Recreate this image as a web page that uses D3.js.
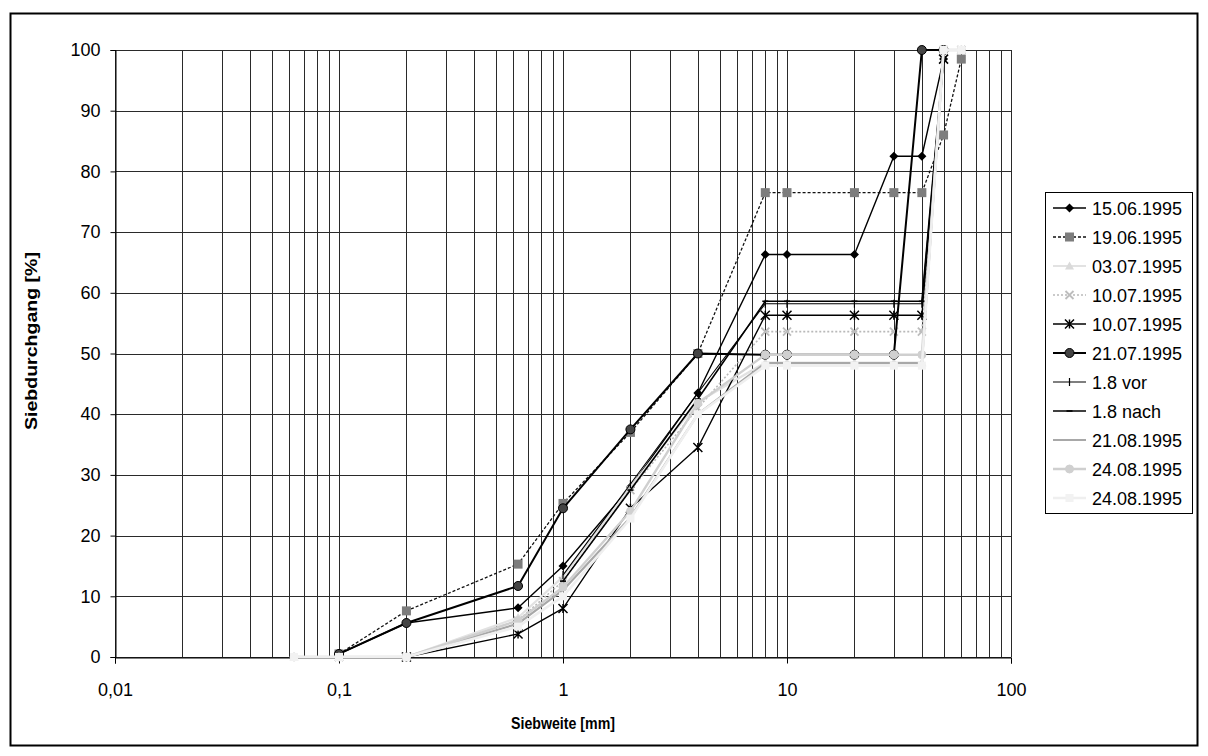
<!DOCTYPE html>
<html>
<head>
<meta charset="utf-8">
<script src="https://cdn.jsdelivr.net/npm/d3@7"></script>
<style>
  html, body { margin: 0; padding: 0; background: #fff; }
  svg { display: block; font-family: "Liberation Sans", Arial, sans-serif; }
</style>
</head>
<body>
<svg id="chart" width="1208" height="756"></svg>
<script>
// Sieve sizes [mm]
const sieveSizes = [0.063, 0.1, 0.2, 0.63, 1, 2, 4, 8, 10, 20, 30, 40, 50, 60];

// Passing fraction [%] per sample, one value per sieve size (null = not measured)
const s150695  = [null, 0.5, 5.6, 8.1, 15.0, 28.0, 43.5, 66.3, 66.3, 66.3, 82.5, 82.5, 98.5, null];
const s190695  = [null, 0.5, 7.6, 15.3, 25.3, 37.0, 50.0, 76.5, 76.5, 76.5, 76.5, 76.5, 86.0, 98.5];
const s030795  = [0, 0, 0, 6.5, 13.2, 28.0, 42.0, 48.5, 48.5, 48.5, 48.5, 48.5, 100, 100];
const s100795a = [null, 0, 0, 6.0, 12.5, 27.5, 41.0, 53.6, 53.6, 53.6, 53.6, 53.6, 100, 100];
const s100795b = [null, null, 0, 3.8, 8.0, 24.5, 34.5, 56.3, 56.3, 56.3, 56.3, 56.3, 98.5, null];
const s210795  = [null, 0.5, 5.6, 11.7, 24.5, 37.5, 50.0, 49.8, 49.8, 49.8, 49.8, 100, 100, null];
const s18vor   = [null, null, null, null, 13.5, 28.5, 43.5, 58.2, 58.2, 58.2, 58.2, 58.2, 98.5, null];
const s18nach  = [null, null, null, null, 12.5, 27.5, 42.5, 58.6, 58.6, 58.6, 58.6, 58.6, 98.5, null];
const s210895  = [null, 0, 0, 5.5, 11.0, 23.0, 40.0, 48.4, 48.4, 48.4, 48.4, 48.4, 100, 100];
const s240895a = [0, 0, 0, 6.0, 11.5, 24.0, 41.8, 49.8, 49.8, 49.8, 49.8, 49.8, 100, 100];
const s240895b = [0, 0, 0, 5.0, 10.0, 22.8, 40.0, 48.0, 48.0, 48.0, 48.0, 48.0, 100, 100];

const seriesNames = ["15.06.1995", "19.06.1995", "03.07.1995", "10.07.1995", "10.07.1995",
                     "21.07.1995", "1.8 vor", "1.8 nach", "21.08.1995", "24.08.1995", "24.08.1995"];
const seriesValues = [s150695, s190695, s030795, s100795a, s100795b,
                      s210795, s18vor, s18nach, s210895, s240895a, s240895b];

const xTickValues = [0.01, 0.1, 1, 10, 100];
const xTickLabels = ["0,01", "0,1", "1", "10", "100"];
const yTickValues = [0, 10, 20, 30, 40, 50, 60, 70, 80, 90, 100];

// Line and marker look of each series
const styles = [
  { stroke: "#000",    width: 1.4, dash: null,  marker: "diamond",  fill: "#000",    size: 4.5 },
  { stroke: "#111",    width: 1.3, dash: "3,2", marker: "square",   fill: "#7d7d7d", size: 4.5 },
  { stroke: "#e2e2e2", width: 2.2, dash: null,  marker: "triangle", fill: "#dadada", size: 4.5 },
  { stroke: "#b9b9b9", width: 1.6, dash: "2,2", marker: "x",        fill: "#bdbdbd", size: 4 },
  { stroke: "#000",    width: 1.3, dash: null,  marker: "star",     fill: "#000",    size: 4.5 },
  { stroke: "#000",    width: 2.0, dash: null,  marker: "circle",   fill: "#444",    size: 4.5 },
  { stroke: "#000",    width: 1.1, dash: null,  marker: "plus",     fill: "#000",    size: 4 },
  { stroke: "#000",    width: 1.6, dash: null,  marker: "dash",     fill: "#000",    size: 3 },
  { stroke: "#a8a8a8", width: 2.2, dash: null,  marker: null,       fill: null,      size: 0 },
  { stroke: "#cfcfcf", width: 2.4, dash: null,  marker: "circle",   fill: "#d0d0d0", size: 4 },
  { stroke: "#efefef", width: 2.6, dash: null,  marker: "square",   fill: "#f2f2f2", size: 4 }
];

const svg = d3.select("#chart");
svg.append("rect").attr("width", 1208).attr("height", 756).attr("fill", "#fff");

// Outer frame
svg.append("rect")
  .attr("x", 10.5).attr("y", 13.5).attr("width", 1187).attr("height", 732)
  .attr("fill", "none").attr("stroke", "#000").attr("stroke-width", 2);

const plot = { left: 115, right: 1011, top: 50, bottom: 657 };
const x = d3.scaleLog().domain([0.01, 100]).range([plot.left, plot.right]);
const y = d3.scaleLinear().domain([0, 100]).range([plot.bottom, plot.top]);

// Grid: horizontal every 10 %, vertical at every log step
const grid = svg.append("g").attr("stroke", "#2a2a2a").attr("stroke-width", 1).attr("shape-rendering", "crispEdges");
yTickValues.forEach(v => {
  grid.append("line").attr("x1", plot.left).attr("x2", plot.right)
    .attr("y1", Math.round(y(v)) + 0.5).attr("y2", Math.round(y(v)) + 0.5);
});
const logSteps = [];
for (let e = -2; e <= 1; e++) for (let m = 1; m <= 9; m++) logSteps.push(m * Math.pow(10, e));
logSteps.push(100);
logSteps.forEach(v => {
  grid.append("line").attr("y1", plot.top).attr("y2", plot.bottom)
    .attr("x1", Math.round(x(v)) + 0.5).attr("x2", Math.round(x(v)) + 0.5);
});

// Axes
const yAxis = svg.append("g").attr("transform", `translate(${plot.left + 0.5},0)`)
  .call(d3.axisLeft(y).tickValues(yTickValues).tickSize(5).tickPadding(10).tickFormat(d => d));
const xAxis = svg.append("g").attr("transform", `translate(0,${plot.bottom + 0.5})`)
  .call(d3.axisBottom(x).tickValues(xTickValues).tickSize(6).tickPadding(20)
    .tickFormat((d, i) => xTickLabels[i]));
[yAxis, xAxis].forEach(a => {
  a.selectAll("text").attr("font-size", 18).attr("fill", "#000")
    .attr("font-family", "'Liberation Sans', Arial, sans-serif");
  a.selectAll("line").attr("stroke", "#000");
  a.select(".domain").attr("stroke", "#000");
});

// Axis titles
svg.append("text").attr("x", 563).attr("y", 729).attr("text-anchor", "middle")
  .attr("font-size", 16.5).attr("font-weight", "bold")
  .attr("textLength", 104).attr("lengthAdjust", "spacingAndGlyphs")
  .text("Siebweite [mm]");
svg.append("text").attr("transform", "translate(37,341) rotate(-90)").attr("text-anchor", "middle")
  .attr("font-size", 17).attr("font-weight", "bold")
  .attr("textLength", 178).attr("lengthAdjust", "spacingAndGlyphs")
  .text("Siebdurchgang [%]");

// Marker painter
function drawMarker(g, type, cx, cy, st) {
  const s = st.size;
  if (!type) return;
  if (type === "diamond") {
    g.append("path").attr("d", `M${cx},${cy - s}L${cx + s},${cy}L${cx},${cy + s}L${cx - s},${cy}Z`).attr("fill", st.fill);
  } else if (type === "square") {
    g.append("rect").attr("x", cx - s).attr("y", cy - s).attr("width", 2 * s).attr("height", 2 * s).attr("fill", st.fill);
  } else if (type === "triangle") {
    g.append("path").attr("d", `M${cx},${cy - s}L${cx + s},${cy + s * 0.8}L${cx - s},${cy + s * 0.8}Z`).attr("fill", st.fill);
  } else if (type === "circle") {
    g.append("circle").attr("cx", cx).attr("cy", cy).attr("r", s).attr("fill", st.fill)
      .attr("stroke", st.stroke === "#000" ? "#000" : st.fill).attr("stroke-width", 1);
  } else if (type === "x") {
    g.append("path").attr("d", `M${cx - s},${cy - s}L${cx + s},${cy + s}M${cx - s},${cy + s}L${cx + s},${cy - s}`)
      .attr("stroke", st.fill).attr("stroke-width", 1.8);
  } else if (type === "star") {
    g.append("path").attr("d", `M${cx - s},${cy - s}L${cx + s},${cy + s}M${cx - s},${cy + s}L${cx + s},${cy - s}M${cx},${cy - s}L${cx},${cy + s}`)
      .attr("stroke", st.fill).attr("stroke-width", 1.5);
  } else if (type === "plus") {
    g.append("path").attr("d", `M${cx},${cy - s}L${cx},${cy + s}`).attr("stroke", st.fill).attr("stroke-width", 1.2);
  } else if (type === "dash") {
    g.append("path").attr("d", `M${cx - s},${cy}L${cx + s},${cy}`).attr("stroke", st.fill).attr("stroke-width", 1.6);
  }
}

// Series lines and markers
const lineGen = d3.line()
  .defined(d => d.v !== null)
  .x(d => x(d.size))
  .y(d => y(d.v));

const seriesG = svg.append("g");
seriesValues.forEach((vals, i) => {
  const st = styles[i];
  const pts = sieveSizes.map((size, j) => ({ size, v: vals[j] }));
  const g = seriesG.append("g");
  g.append("path").datum(pts).attr("d", lineGen)
    .attr("fill", "none").attr("stroke", st.stroke).attr("stroke-width", st.width)
    .attr("stroke-dasharray", st.dash).attr("stroke-linejoin", "round");
  pts.filter(d => d.v !== null).forEach(d => drawMarker(g, st.marker, x(d.size), y(d.v), st));
});

// Legend
const legend = svg.append("g");
legend.append("rect").attr("x", 1045.5).attr("y", 192.5).attr("width", 147).attr("height", 321)
  .attr("fill", "#fff").attr("stroke", "#000").attr("stroke-width", 1);
seriesNames.forEach((name, i) => {
  const st = styles[i];
  const ly = 208 + i * 29;
  const g = legend.append("g");
  g.append("line").attr("x1", 1053).attr("x2", 1086).attr("y1", ly).attr("y2", ly)
    .attr("stroke", st.stroke).attr("stroke-width", st.width).attr("stroke-dasharray", st.dash);
  drawMarker(g, st.marker, 1069.5, ly, st);
  g.append("text").attr("x", 1092).attr("y", ly + 6.5).attr("font-size", 18).attr("fill", "#000").text(name);
});
</script>
</body>
</html>
